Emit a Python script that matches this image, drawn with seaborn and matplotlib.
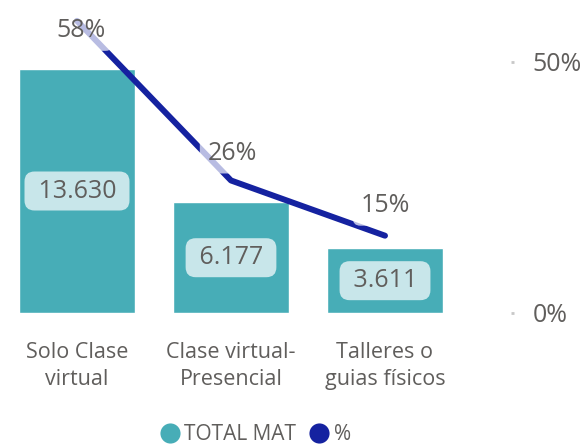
import matplotlib
matplotlib.use("Agg")
import matplotlib.pyplot as plt
from matplotlib.lines import Line2D
import seaborn as sns

# Values
categorias = ["Solo Clase\nvirtual", "Clase virtual-\nPresencial", "Talleres o\nguias físicos"]
total_mat = [13630, 6177, 3611]
porcentaje = [0.582, 0.264, 0.154]
pct_labels = ["58%", "26%", "15%"]
pct_ticks = [0.0, 0.5]
pct_tick_labels = ["0%", "50%"]

bar_color = "#47ADB7"
line_color = "#1522A0"
text_color = "#605E5C"
box_color = "#C8E6EA"

sns.set_style("white")
plt.rcParams["font.family"] = ["Open Sans", "DejaVu Sans"]

fig = plt.figure(figsize=(5.81, 4.46), dpi=100)
ax = fig.add_axes([0.0, 133 / 446, 462 / 581, 313 / 446])

sns.barplot(x=categorias, y=total_mat, color=bar_color, width=0.75,
            saturation=1, ax=ax)
ax.set_xlim(-0.5, 2.5)
ax.set_ylim(0, 17485)

# value labels in rounded boxes, centered in the bars
ax.bar_label(ax.containers[0],
             labels=[" " + f"{v:,}".replace(",", ".") + " " for v in total_mat],
             label_type="center", fontsize=18, color=text_color,
             bbox=dict(boxstyle="round,pad=0.28,rounding_size=0.4",
                       fc=box_color, ec="none"))

ax.set_yticks([])
ax.set_ylabel("")
ax.tick_params(axis="x", length=0, pad=21, labelsize=15.5, labelcolor=text_color)
for lbl in ax.get_xticklabels():
    lbl.set_multialignment("center")
    lbl.set_linespacing(1.38)
for s in ax.spines.values():
    s.set_visible(False)

# percentage line on secondary axis
ax2 = ax.twinx()
sns.lineplot(x=[0, 1, 2], y=porcentaje, color=line_color, linewidth=4.3,
             solid_capstyle="round", ax=ax2)
ax2.set_ylim(0, 0.6235)
ax2.set_xlim(-0.5, 2.5)

offsets = [(4, -10), (1, 27), (0, 30)]
for i, (v, lab) in enumerate(zip(porcentaje, pct_labels)):
    ax2.annotate(lab, (i, v), xytext=offsets[i], textcoords="offset pixels",
                 ha="center", va="center", fontsize=18, color=text_color,
                 bbox=dict(boxstyle="round,pad=0.3", fc="white", ec="none", alpha=0.7))

ax2.set_yticks(pct_ticks)
ax2.set_yticklabels(pct_tick_labels)
ax2.spines["right"].set_position(("outward", 35))
for s in ax2.spines.values():
    s.set_visible(False)
ax2.tick_params(axis="y", length=2, width=2, color="#C8C8C8", pad=14,
                labelsize=18, labelcolor=text_color)

# legend
handles = [Line2D([], [], marker="o", linestyle="none", markersize=14.5,
                  markerfacecolor=bar_color, markeredgecolor="none"),
           Line2D([], [], marker="o", linestyle="none", markersize=14.5,
                  markerfacecolor=line_color, markeredgecolor="none")]
fig.legend(handles, ["TOTAL MAT", "%"], loc="center", ncol=2,
           bbox_to_anchor=(256 / 581, 11 / 446), frameon=False,
           handletextpad=0.3, columnspacing=0.7, handlelength=0.8,
           fontsize=15, labelcolor=text_color)

fig.savefig("out.png", dpi=100)
